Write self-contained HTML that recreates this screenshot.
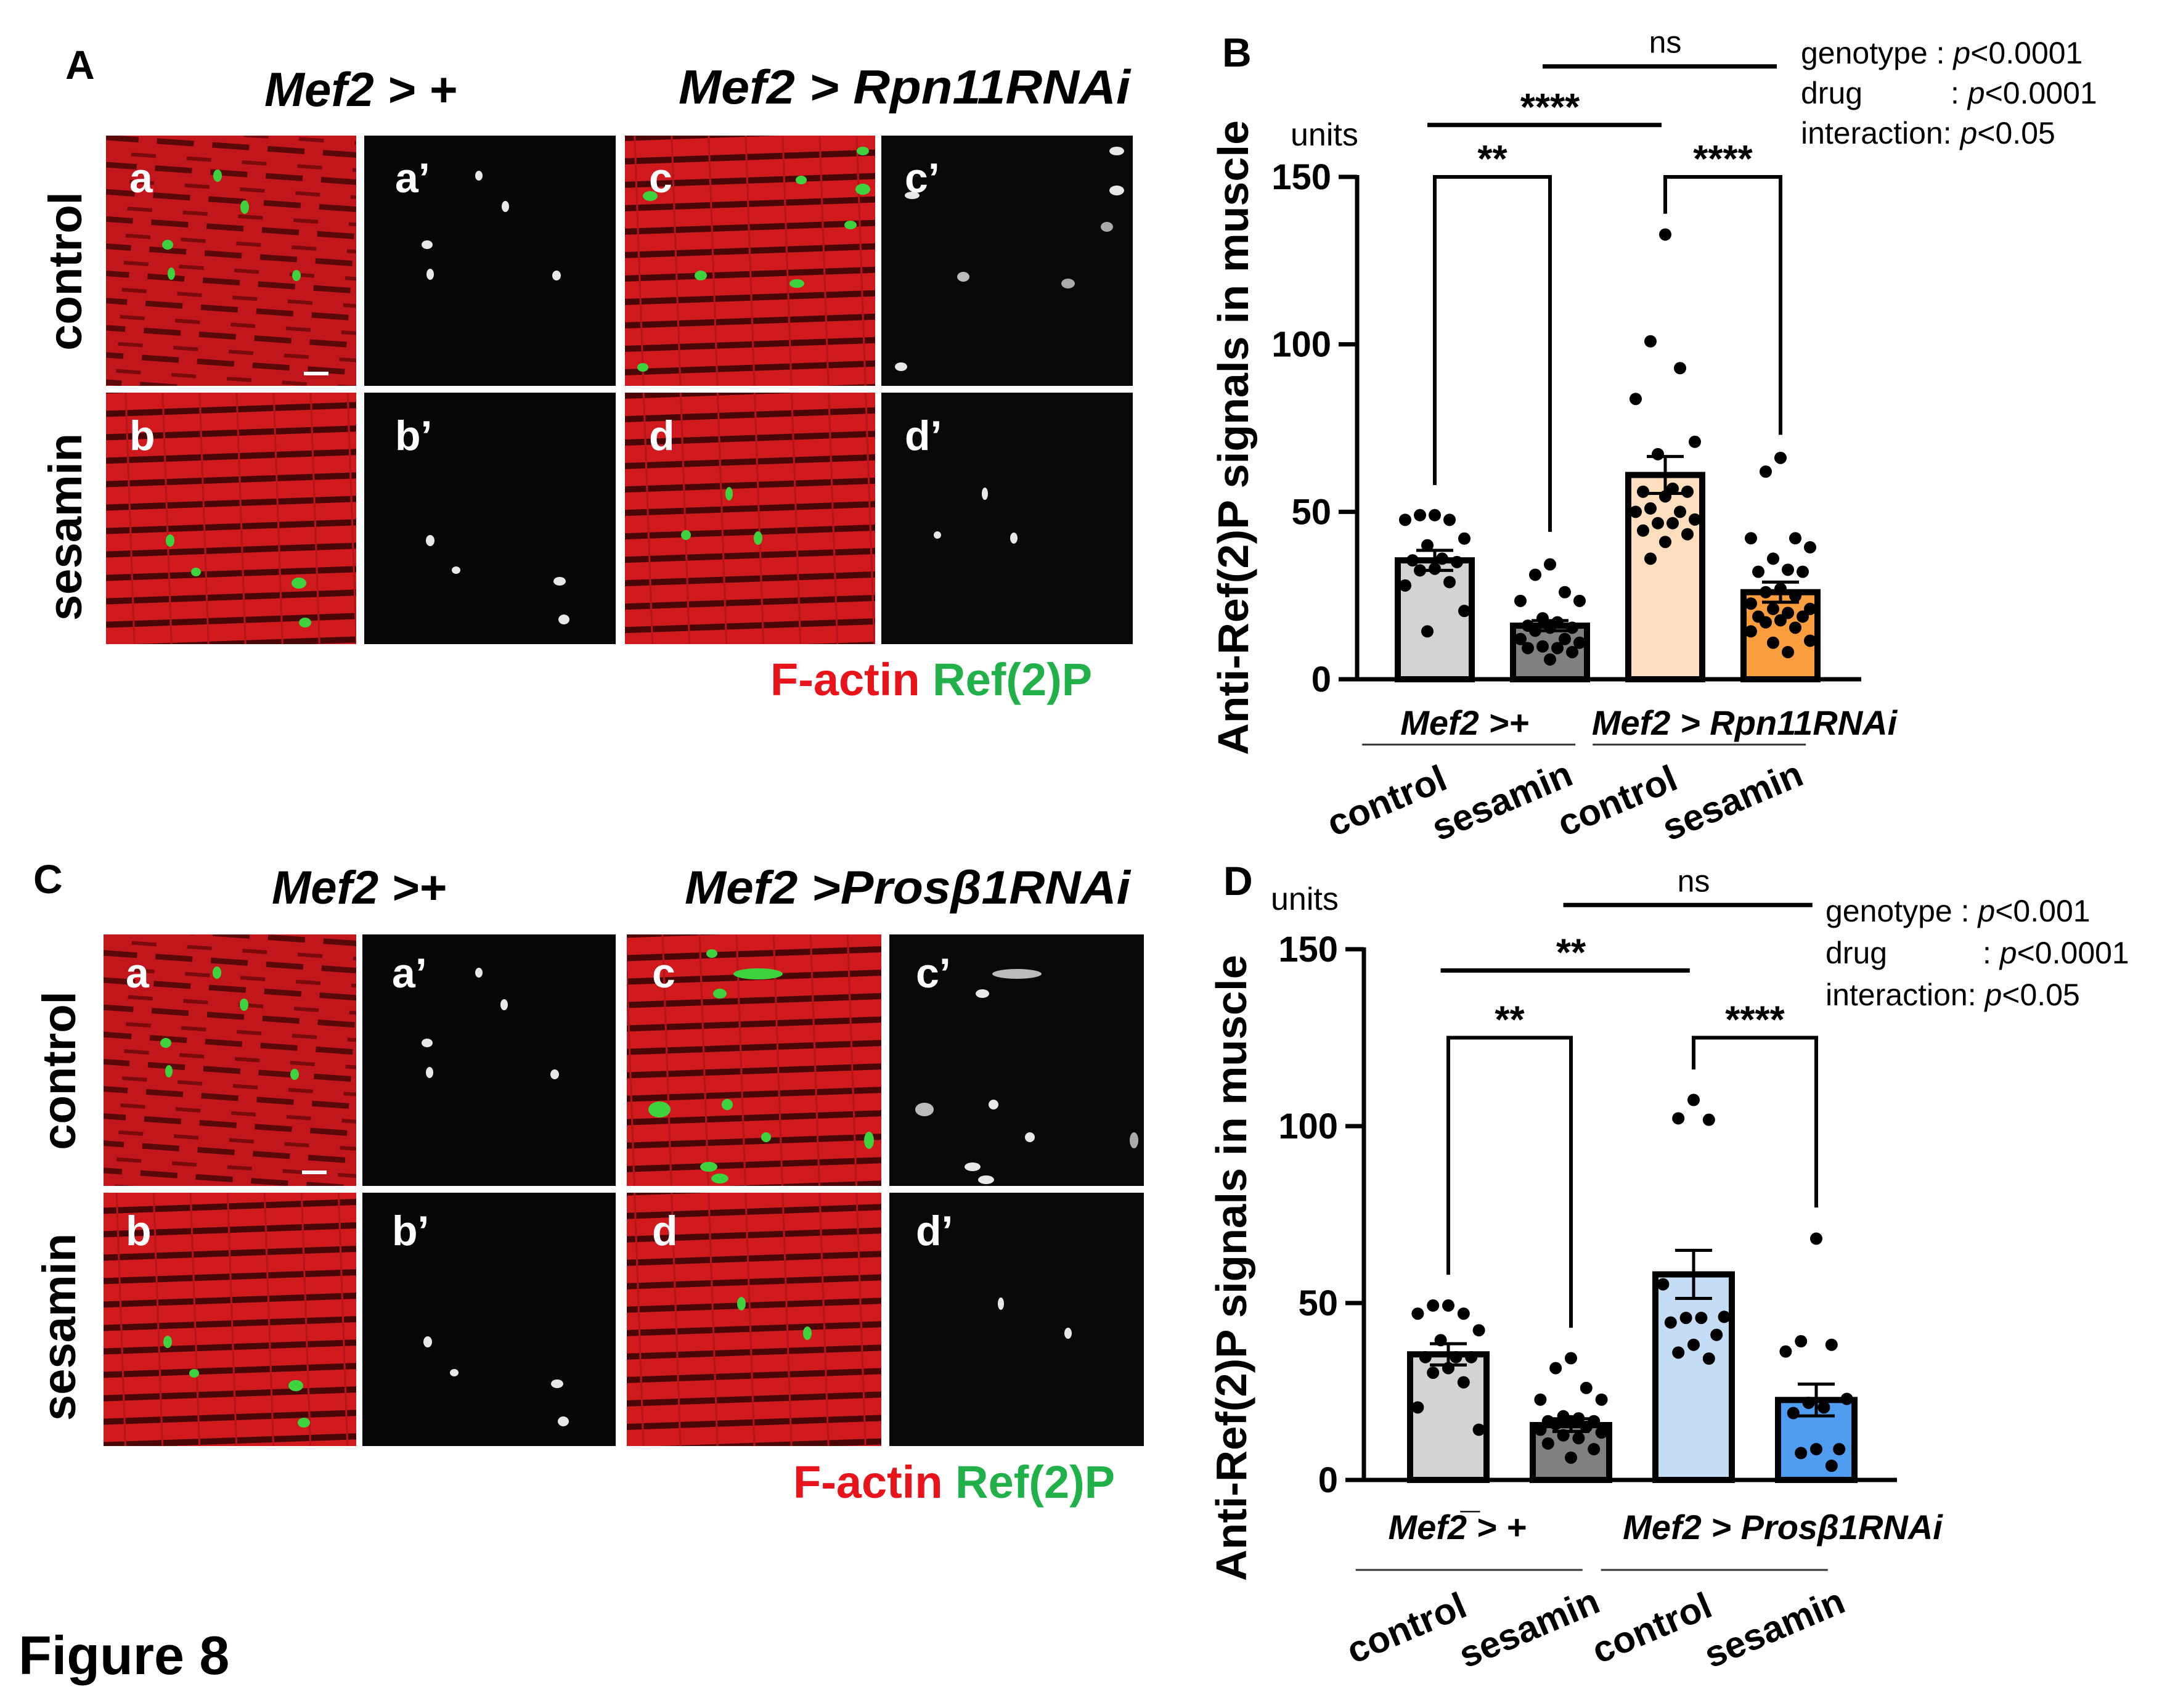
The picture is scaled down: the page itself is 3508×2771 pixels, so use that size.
<!DOCTYPE html>
<html><head><meta charset="utf-8">
<style>
html,body{margin:0;padding:0;background:#fff;}
svg{display:block;font-family:"Liberation Sans",Arial,sans-serif;}
</style></head>
<body>
<svg id="fig" width="3508" height="2771" viewBox="0 0 3508 2771" xmlns="http://www.w3.org/2000/svg">
<defs>
  <pattern id="stripes" width="60" height="38" patternUnits="userSpaceOnUse" patternTransform="rotate(-2)">
    <rect width="60" height="38" fill="#d01a1e"/>
    <rect y="26" width="60" height="10" fill="#4a0606"/>
    <rect x="0" y="0" width="3" height="38" fill="#b5141a"/>
  </pattern>
  <pattern id="mottled" width="90" height="44" patternUnits="userSpaceOnUse" patternTransform="rotate(4)">
    <rect width="90" height="44" fill="#c0161c"/>
    <rect y="30" width="60" height="9" fill="#5a0808"/>
    <rect x="50" y="12" width="40" height="6" fill="#7a0a0c"/>
  </pattern>
</defs>

<!-- Panel A -->
<g>
  <text x="106" y="128" font-size="66" font-weight="bold">A</text>
  <text x="429" y="172" font-size="78" font-weight="bold" font-style="italic">Mef2 &gt; +</text>
  <text x="1101" y="168" font-size="78" font-weight="bold" font-style="italic" textLength="733" lengthAdjust="spacingAndGlyphs">Mef2 &gt; Rpn11RNAi</text>
  <text transform="translate(132,440) rotate(-90)" text-anchor="middle" font-size="76" font-weight="bold">control</text>
  <text transform="translate(132,855) rotate(-90)" text-anchor="middle" font-size="76" font-weight="bold">sesamin</text>
  <rect x="172" y="220" width="406" height="406" fill="url(#mottled)"/>
  <rect x="591" y="220" width="408" height="406" fill="#060606"/>
  <rect x="1014" y="220" width="406" height="406" fill="url(#stripes)"/>
  <rect x="1430" y="220" width="408" height="406" fill="#080808"/>
  <rect x="172" y="637" width="406" height="408" fill="url(#stripes)"/>
  <rect x="591" y="637" width="408" height="408" fill="#060606"/>
  <rect x="1014" y="637" width="406" height="408" fill="url(#stripes)"/>
  <rect x="1430" y="637" width="408" height="408" fill="#080808"/>
  <g fill="#3fd23f">
    <ellipse cx="353" cy="285" rx="7" ry="10"/><ellipse cx="397" cy="336" rx="7" ry="11"/><ellipse cx="272" cy="397" rx="9" ry="8"/><ellipse cx="278" cy="444" rx="6" ry="10"/><ellipse cx="481" cy="447" rx="7" ry="9"/>
    <ellipse cx="1055" cy="318" rx="12" ry="8"/><ellipse cx="1400" cy="307" rx="12" ry="9"/><ellipse cx="1400" cy="245" rx="10" ry="7"/><ellipse cx="1300" cy="292" rx="9" ry="7"/><ellipse cx="1380" cy="365" rx="10" ry="7"/><ellipse cx="1137" cy="447" rx="10" ry="8"/><ellipse cx="1293" cy="460" rx="12" ry="7"/><ellipse cx="1043" cy="596" rx="9" ry="7"/>
    <ellipse cx="276" cy="877" rx="7" ry="10"/><ellipse cx="318" cy="928" rx="8" ry="7"/><ellipse cx="485" cy="946" rx="12" ry="9"/><ellipse cx="495" cy="1010" rx="10" ry="8"/>
    <ellipse cx="1183" cy="801" rx="6" ry="11"/><ellipse cx="1113" cy="868" rx="8" ry="8"/><ellipse cx="1230" cy="873" rx="7" ry="11"/>
  </g>
  <g fill="#e8e8e8">
    <ellipse cx="777" cy="285" rx="6" ry="8"/><ellipse cx="820" cy="335" rx="6" ry="9"/><ellipse cx="693" cy="397" rx="9" ry="7"/><ellipse cx="698" cy="445" rx="6" ry="9"/><ellipse cx="903" cy="447" rx="7" ry="8"/>
    <ellipse cx="1812" cy="245" rx="12" ry="7"/><ellipse cx="1812" cy="309" rx="12" ry="8"/><ellipse cx="1480" cy="317" rx="12" ry="6"/><ellipse cx="1796" cy="368" rx="10" ry="8" fill="#aaa"/><ellipse cx="1563" cy="449" rx="10" ry="8" fill="#bbb"/><ellipse cx="1733" cy="460" rx="11" ry="8" fill="#aaa"/><ellipse cx="1462" cy="595" rx="10" ry="7"/>
    <ellipse cx="698" cy="877" rx="7" ry="9"/><ellipse cx="740" cy="925" rx="7" ry="6"/><ellipse cx="908" cy="943" rx="10" ry="7"/><ellipse cx="915" cy="1005" rx="9" ry="8"/>
    <ellipse cx="1598" cy="801" rx="5" ry="10"/><ellipse cx="1521" cy="868" rx="6" ry="6"/><ellipse cx="1645" cy="873" rx="6" ry="9"/>
  </g>
  <rect x="493" y="603" width="40" height="6" fill="#fff"/>
  <g fill="#fff" font-size="68" font-weight="bold">
    <text x="210" y="312">a</text><text x="641" y="312">a’</text><text x="1053" y="312">c</text><text x="1468" y="312">c’</text>
    <text x="210" y="730">b</text><text x="641" y="730">b’</text><text x="1053" y="730">d</text><text x="1468" y="730">d’</text>
  </g>
  <text x="1250" y="1128" font-size="74" font-weight="bold"><tspan fill="#e8141c">F-actin</tspan><tspan fill="#22b04a"> Ref(2)P</tspan></text>
</g>

<!-- Panel C -->
<g>
  <text x="54" y="1449" font-size="66" font-weight="bold">C</text>
  <text x="441" y="1466" font-size="76" font-weight="bold" font-style="italic">Mef2 &gt;+</text>
  <text x="1111" y="1466" font-size="76" font-weight="bold" font-style="italic" textLength="723" lengthAdjust="spacingAndGlyphs">Mef2 &gt;Prosβ1RNAi</text>
  <text transform="translate(122,1737) rotate(-90)" text-anchor="middle" font-size="76" font-weight="bold">control</text>
  <text transform="translate(122,2153) rotate(-90)" text-anchor="middle" font-size="76" font-weight="bold">sesamin</text>
  <rect x="168" y="1516" width="410" height="408" fill="url(#mottled)"/>
  <rect x="588" y="1516" width="411" height="408" fill="#060606"/>
  <rect x="1017" y="1516" width="413" height="408" fill="url(#stripes)"/>
  <rect x="1443" y="1516" width="413" height="408" fill="#080808"/>
  <rect x="168" y="1935" width="410" height="411" fill="url(#stripes)"/>
  <rect x="588" y="1935" width="411" height="411" fill="#060606"/>
  <rect x="1017" y="1935" width="413" height="411" fill="url(#stripes)"/>
  <rect x="1443" y="1935" width="413" height="411" fill="#080808"/>
  <g fill="#3fd23f">
    <ellipse cx="352" cy="1578" rx="7" ry="10"/><ellipse cx="396" cy="1630" rx="7" ry="10"/><ellipse cx="269" cy="1692" rx="9" ry="8"/><ellipse cx="274" cy="1738" rx="6" ry="10"/><ellipse cx="478" cy="1743" rx="7" ry="9"/>
    <ellipse cx="1155" cy="1547" rx="9" ry="7"/><ellipse cx="1230" cy="1580" rx="40" ry="9"/><ellipse cx="1168" cy="1612" rx="11" ry="8"/><ellipse cx="1070" cy="1800" rx="18" ry="13"/><ellipse cx="1180" cy="1792" rx="9" ry="9"/><ellipse cx="1243" cy="1845" rx="8" ry="8"/><ellipse cx="1150" cy="1893" rx="14" ry="8"/><ellipse cx="1168" cy="1912" rx="14" ry="8"/><ellipse cx="1410" cy="1850" rx="8" ry="14"/>
    <ellipse cx="272" cy="2177" rx="7" ry="10"/><ellipse cx="315" cy="2228" rx="8" ry="7"/><ellipse cx="480" cy="2248" rx="12" ry="9"/><ellipse cx="493" cy="2308" rx="10" ry="8"/>
    <ellipse cx="1203" cy="2115" rx="7" ry="11"/><ellipse cx="1310" cy="2163" rx="7" ry="11"/>
  </g>
  <g fill="#e8e8e8">
    <ellipse cx="777" cy="1578" rx="6" ry="8"/><ellipse cx="818" cy="1630" rx="6" ry="9"/><ellipse cx="693" cy="1692" rx="9" ry="7"/><ellipse cx="697" cy="1740" rx="6" ry="9"/><ellipse cx="900" cy="1743" rx="7" ry="8"/>
    <ellipse cx="1650" cy="1580" rx="40" ry="8" fill="#bbb"/><ellipse cx="1594" cy="1612" rx="11" ry="7"/><ellipse cx="1500" cy="1800" rx="15" ry="11" fill="#bbb"/><ellipse cx="1612" cy="1792" rx="8" ry="8"/><ellipse cx="1671" cy="1845" rx="8" ry="8"/><ellipse cx="1578" cy="1893" rx="13" ry="7"/><ellipse cx="1600" cy="1914" rx="13" ry="7"/><ellipse cx="1840" cy="1850" rx="7" ry="13" fill="#aaa"/>
    <ellipse cx="694" cy="2177" rx="7" ry="9"/><ellipse cx="737" cy="2227" rx="7" ry="6"/><ellipse cx="904" cy="2245" rx="10" ry="7"/><ellipse cx="914" cy="2306" rx="9" ry="8"/>
    <ellipse cx="1624" cy="2115" rx="5" ry="10"/><ellipse cx="1733" cy="2163" rx="6" ry="9"/>
  </g>
  <rect x="490" y="1899" width="40" height="6" fill="#fff"/>
  <g fill="#fff" font-size="68" font-weight="bold">
    <text x="204" y="1602">a</text><text x="636" y="1602">a’</text><text x="1058" y="1602">c</text><text x="1486" y="1602">c’</text>
    <text x="204" y="2020">b</text><text x="636" y="2020">b’</text><text x="1058" y="2020">d</text><text x="1486" y="2020">d’</text>
  </g>
  <text x="1287" y="2430" font-size="74" font-weight="bold"><tspan fill="#e8141c">F-actin</tspan><tspan fill="#22b04a"> Ref(2)P</tspan></text>
</g>

<text x="30" y="2716" font-size="88" font-weight="bold">Figure 8</text>

<g id="chartB"></g>
<g id="chartD"></g>
</svg>

<script>
// ---------- Chart B data ----------
const bCategories = ["control", "sesamin", "control", "sesamin"];
const bGroups = ["Mef2 >+", "Mef2  > Rpn11RNAi"];
const bMeans = [35.5, 16, 61, 26];
const bSem = [3, 1.5, 5.5, 3];
const bPoints1 = [49, 49, 47.6, 47.6, 42, 40, 36, 35.5, 35, 33, 32.5, 29, 28, 20.4, 14.3];
const bPoints2 = [34.3, 31.2, 26, 23.4, 23.4, 18.2, 17, 16, 15.4, 15.4, 14.5, 12, 12, 10.9, 9.8, 9.3, 9.3, 8.1, 5.9];
const bPoints3 = [132.8, 100.9, 92.9, 83.7, 70.9, 67.2, 56.9, 56, 56, 54.6, 51, 50, 50, 47.7, 46.6, 46.6, 44.4, 43.3, 41, 36];
const bPoints4 = [66.1, 62, 42.1, 42.1, 39.4, 36, 32.7, 32.1, 32.1, 27, 26, 24.9, 22.6, 21, 21, 19.8, 18.7, 18.7, 17.6, 17, 15.4, 14.3, 11.5, 10.9, 8.1];
const bFills = ["#d3d3d3", "#808080", "#fddfc0", "#f99d3e"];
const bStatP = ["p<0.0001", "p<0.0001", "p<0.05"];
const yTicks = [0, 50, 100, 150];

// ---------- Chart D data ----------
const dCategories = ["control", "sesamin", "control", "sesamin"];
const dGroups = ["Mef2\u0305\u0305 > +", "Mef2  > Prosβ1RNAi"];
const dMeans = [35.5, 15.5, 58.1, 22.6];
const dSem = [3, 1.8, 6.8, 4.5];
const dPoints1 = [49.3, 49.3, 47, 47, 42.3, 39.5, 34.7, 34.7, 34.7, 31.6, 30.3, 27.6, 20.5, 14.2];
const dPoints2 = [34.4, 31.6, 26, 22.7, 22.7, 18, 17.4, 16.6, 16.6, 16.6, 15.8, 15, 14.2, 13.4, 12.6, 11.8, 10.3, 8.7, 6.3];
const dPoints3 = [107.4, 102.2, 101.8, 55.3, 46.1, 45.8, 45.8, 44.5, 41, 38.2, 36, 34.3];
const dPoints4 = [68.2, 39.2, 38.2, 36.3, 22.9, 21.8, 20.5, 18.9, 8.7, 8.7, 7.6, 4];
const dFills = ["#d3d3d3", "#808080", "#c5dcf5", "#4f9cf0"];
const dStatP = ["p<0.001", "p<0.0001", "p<0.05"];

const NS = "http://www.w3.org/2000/svg";
function mk(parent, tag, attrs, text) {
  const e = document.createElementNS(NS, tag);
  for (const k in attrs) e.setAttribute(k, attrs[k]);
  if (text !== undefined) e.textContent = text;
  parent.appendChild(e);
  return e;
}

function drawChart(g, L, means, sem, points, fills, cats, groups, statP, brackets) {
  const yScale = v => L.y0 - (v - 0) / 150 * (L.y0 - L.y150);
  const xScale = i => L.x1 + i * L.step;
  const black = "#000";

  const pl = mk(g, "text", {x: L.letterX, y: L.letterY, "font-size": 66, "font-weight": "bold"}, L.letter);
  
  

  const un = mk(g, "text", {x: L.unitsX, y: L.unitsY, "font-size": 52}, "units");
  
  

  const yt = mk(g, "text", {transform: `translate(${L.titleX},${L.titleY}) rotate(-90)`, "text-anchor": "middle", "font-size": 70, "font-weight": "bold", textLength: L.titleLen, lengthAdjust: "spacingAndGlyphs"}, "Anti-Ref(2)P signals in muscle");
  
  

  means.forEach((m, i) => {
    const cx = xScale(i);
    const r = mk(g, "rect", {x: cx - L.bw / 2, y: yScale(m), width: L.bw, height: yScale(0) - yScale(m), fill: fills[i], stroke: black, "stroke-width": 10});
    
    
  });

  points.forEach((arr, i) => {
    const cx = xScale(i);
    const pattern = [0, -1, 1, -2, 2, -0.5, 0.5, -1.5, 1.5];
    arr.forEach((v, j) => {
      const off = pattern[j % pattern.length] * L.bw * 0.2;
      const c = mk(g, "circle", {cx: cx + off, cy: yScale(v), r: 10, fill: black});
      
      
    });
  });

  means.forEach((m, i) => {
    const cx = xScale(i);
    const eg = mk(g, "g", {stroke: black, "stroke-width": 5});
    
    
    mk(eg, "line", {x1: cx, x2: cx, y1: yScale(m - sem[i]), y2: yScale(m + sem[i])});
    mk(eg, "line", {x1: cx - 30, x2: cx + 30, y1: yScale(m + sem[i]), y2: yScale(m + sem[i])});
    mk(eg, "line", {x1: cx - 30, x2: cx + 30, y1: yScale(m - sem[i]), y2: yScale(m - sem[i])});
  });

  const ax = mk(g, "g", {stroke: black, "stroke-width": 7, fill: "none"});
  
  
  mk(ax, "line", {x1: L.ax, x2: L.ax, y1: yScale(150) - 3, y2: yScale(0)});
  mk(ax, "line", {x1: L.ax - 30, x2: L.axEnd, y1: yScale(0), y2: yScale(0)});
  yTicks.forEach(t => {
    mk(ax, "line", {x1: L.ax - 30, x2: L.ax, y1: yScale(t), y2: yScale(t)});
    const tl = mk(g, "text", {x: L.ax - 42, y: yScale(t) + 20, "text-anchor": "end", "font-size": 58, "font-weight": "bold"}, String(t));
    
    
  });

  brackets.forEach(b => {
    const bg = mk(g, "g", {});
    
    
    const xa = xScale(b.a), xb = xScale(b.b), yt2 = yScale(b.top);
    if (b.legs) {
      mk(bg, "polyline", {points: `${xa},${yScale(b.la)} ${xa},${yt2} ${xb},${yt2} ${xb},${yScale(b.lb)}`, fill: "none", stroke: black, "stroke-width": 6});
    } else {
      mk(bg, "line", {x1: xa - L.bw * 0.1, x2: xb - L.bw * 0.05, y1: yt2, y2: yt2, stroke: black, "stroke-width": 7});
    }
    mk(bg, "text", {x: (xa + xb) / 2, y: yt2 - (b.label === "ns" ? 22 : 8), "text-anchor": "middle", "font-size": b.label === "ns" ? 50 : 62, "font-weight": b.label === "ns" ? "normal" : "bold"}, b.label);
  });

  const labels = ["genotype : ", "drug", "interaction: "];
  labels.forEach((s, i) => {
    const t = mk(g, "text", {x: L.statX, y: L.statY + i * L.statDy, "font-size": 50});
    
    
    if (i === 1) {
      t.textContent = "drug";
      const t2 = mk(g, "text", {x: L.statX2, y: L.statY + i * L.statDy, "font-size": 50}, ": ");
      mk(t2, "tspan", {"font-style": "italic"}, "p");
      mk(t2, "tspan", {}, statP[i].slice(1));
    } else {
      t.textContent = s;
      mk(t, "tspan", {"font-style": "italic"}, "p");
      mk(t, "tspan", {}, statP[i].slice(1));
    }
  });

  groups.forEach((gname, k) => {
    const cx = (xScale(2 * k) + xScale(2 * k + 1)) / 2 + L.groupDx[k];
    const t = mk(g, "text", {x: cx, y: L.groupY, "text-anchor": "middle", "font-size": 56, "font-weight": "bold", "font-style": "italic", "xml:space": "preserve"}, gname);
    
    
    const ln = mk(g, "line", {x1: xScale(2 * k) - L.step * 0.63 + L.underDx, x2: xScale(2 * k + 1) + L.step * 0.22 + L.underDx, y1: L.underY, y2: L.underY, stroke: "#333", "stroke-width": 3});
    
    
  });

  cats.forEach((c, i) => {
    const cx = xScale(i) + L.catDx;
    const t = mk(g, "text", {transform: `translate(${cx},${L.catY}) rotate(-23)`, "text-anchor": "middle", "font-size": 60, "font-weight": "bold"}, c);
    
    
  });
}

drawChart(document.getElementById("chartB"),
  {x1: 2328, step: 187, bw: 120, y0: 1102, y150: 287, ax: 2202, axEnd: 3020,
   letter: "B", letterX: 1983, letterY: 108, unitsX: 2094, unitsY: 236,
   titleX: 2025, titleY: 710, titleLen: 1030,
   statX: 2922, statY: 103, statDy: 65, statX2: 3165,
   groupY: 1192, underY: 1208, underDx: 0, groupDx: [-45, 35], catY: 1318, catDx: -70},
  bMeans, bSem, [bPoints1, bPoints2, bPoints3, bPoints4], bFills, bCategories, bGroups, bStatP,
  [{a: 0, b: 1, top: 150, legs: true, la: 58, lb: 44, label: "**"},
   {a: 2, b: 3, top: 150, legs: true, la: 139, lb: 73, label: "****"},
   {a: 0, b: 2, top: 165.5, legs: false, label: "****"},
   {a: 1, b: 3, top: 183, legs: false, label: "ns"}]);

drawChart(document.getElementById("chartD"),
  {x1: 2350, step: 199, bw: 124, y0: 2401, y150: 1540, ax: 2213, axEnd: 3078,
   letter: "D", letterX: 1985, letterY: 1452, unitsX: 2062, unitsY: 1476,
   titleX: 2022, titleY: 2057, titleLen: 1016,
   statX: 2962, statY: 1495, statDy: 68, statX2: 3217,
   groupY: 2497, underY: 2547, underDx: -25, groupDx: [-85, 45], catY: 2660, catDx: -60},
  dMeans, dSem, [dPoints1, dPoints2, dPoints3, dPoints4], dFills, dCategories, dGroups, dStatP,
  [{a: 0, b: 1, top: 125, legs: true, la: 58, lb: 43, label: "**"},
   {a: 2, b: 3, top: 125, legs: true, la: 116, lb: 77, label: "****"},
   {a: 0, b: 2, top: 144, legs: false, label: "**"},
   {a: 1, b: 3, top: 162.5, legs: false, label: "ns"}]);
</script>
</body></html>
